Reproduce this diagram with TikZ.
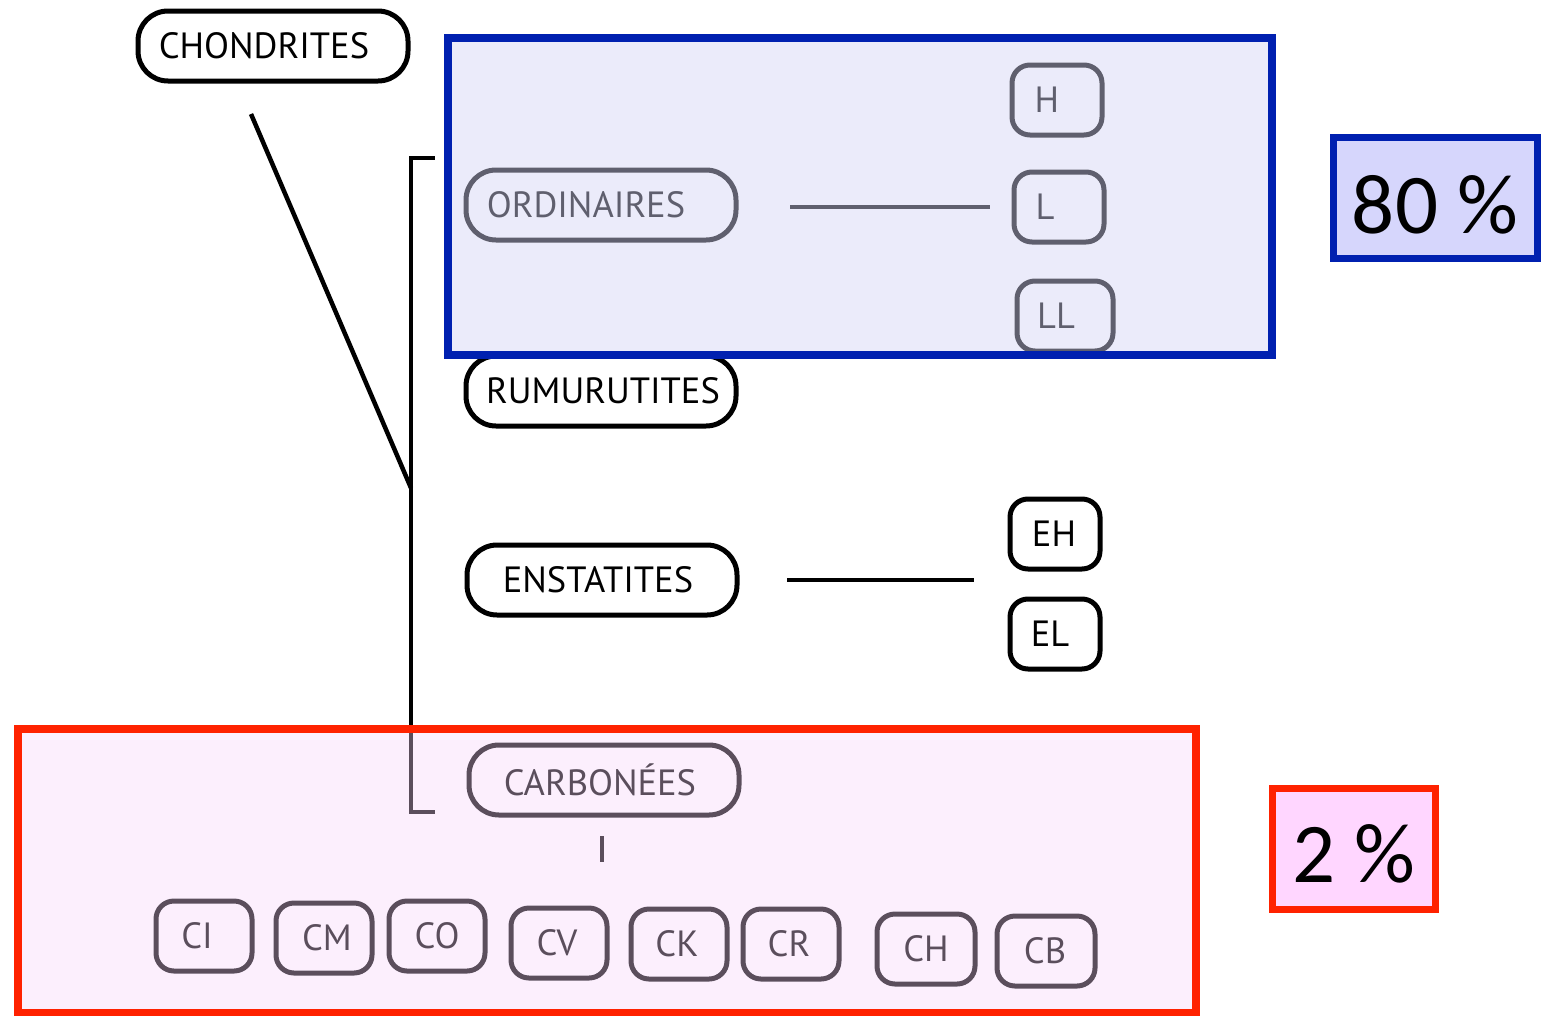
\documentclass[tikz,border=0pt]{standalone}
\usepackage{fontspec}
\newfontfamily\labfont{PT Sans}
\newfontfamily\pctfont{Carlito}
\newcommand\labsize{\labfont\fontsize{36.5}{40}\selectfont}
\newcommand\pctsize{\pctfont\fontsize{85}{90}\selectfont}
\newcommand\sh[2]{\hspace*{#1pt}#2}
\definecolor{blueedge}{RGB}{0,32,176}
\definecolor{rededge}{RGB}{255,34,0}
\definecolor{blueover}{RGB}{212,212,244}
\definecolor{pinkover}{RGB}{247,214,252}
\definecolor{bluepct}{RGB}{214,214,252}
\definecolor{pinkpct}{RGB}{255,214,255}
\tikzset{
  bigbox/.style={draw, line width=5pt, rounded corners=30pt, minimum width=270pt, minimum height=70pt, inner sep=0pt, font=\labsize},
  smallbox/.style={draw, line width=5pt, rounded corners=18pt, minimum width=96pt, minimum height=70pt, inner sep=0pt, font=\labsize},
  conn/.style={line width=4.5pt},
  pctbox/.style={line width=7pt, inner sep=0pt, font=\pctsize, text depth=0pt},
}
\begin{document}
\begin{tikzpicture}[x=1pt,y=-1pt]
\useasboundingbox[fill=white] (0,0) rectangle (1542,1015);
% main nodes
\node[bigbox] (chond) at (273,46) {\sh{-18}{CHONDRITES}};
\node[bigbox] (ord) at (601,205) {\sh{-30}{ORDINAIRES}};
\node[bigbox] (rum) at (601,391) {\sh{4}{RUMURUTITES}};
\node[bigbox] (ens) at (602,580) {\sh{-8}{ENSTATITES}};
\node[bigbox] (carb) at (604,780) {\sh{-8}{CARBONÉES}};
% sub nodes
\node[smallbox, minimum width=90pt] (H) at (1057,100) {\sh{-20}{H}};
\node[smallbox, minimum width=90pt] (L) at (1059,207) {\sh{-28}{L}};
\node[smallbox, minimum width=96pt] (LL) at (1065,316) {\sh{-18}{LL}};
\node[smallbox, minimum width=90pt] (EH) at (1055,534) {\sh{-2}{EH}};
\node[smallbox, minimum width=90pt] (EL) at (1055,634) {\sh{-10}{EL}};
\node[smallbox] (CI) at (204,936) {\sh{-14}{CI}};
\node[smallbox] (CM) at (324,938) {\sh{6}{CM}};
\node[smallbox] (CO) at (437,936) {CO};
\node[smallbox] (CV) at (559,943) {\sh{-4}{CV}};
\node[smallbox] (CK) at (679,944) {\sh{-4}{CK}};
\node[smallbox] (CR) at (791,944) {\sh{-4}{CR}};
\node[smallbox, minimum width=98pt] (CH) at (926,949) {CH};
\node[smallbox, minimum width=98pt] (CB) at (1046,951) {\sh{-2}{CB}};
% connectors
\coordinate (cstart) at (251,114);
\coordinate (junc) at (411,488);
\coordinate (btop) at (411,158);
\coordinate (bbot) at (411,812);
\draw[conn] (cstart) -- (junc);
\draw[conn, line cap=rect] (433,158) -- (btop) -- (bbot) -- (433,812);
\coordinate (o1) at (790,207); \coordinate (o2) at (990,207);
\draw[conn] (o1) -- (o2);
\coordinate (e1) at (787,580); \coordinate (e2) at (974,580);
\draw[conn] (e1) -- (e2);
\coordinate (t1) at (602,836); \coordinate (t2) at (602,862);
\draw[conn] (t1) -- (t2);
% translucent overlays
\fill[blueover, opacity=0.45] (448,38) rectangle (1272,355);
\fill[pinkover, opacity=0.37] (18,729) rectangle (1196,1013);
\draw[blueedge, line width=8pt] (448,38) rectangle (1272,355);
\draw[rededge, line width=8pt] (18,729) rectangle (1196,1013);
% percentage boxes
\node[pctbox, draw=blueedge, fill=bluepct, minimum width=204pt, minimum height=121pt, text height=70pt] (p80) at (1435,198) {80 \%};
\node[pctbox, draw=rededge, fill=pinkpct, minimum width=163pt, minimum height=121pt, text height=66pt] (p2) at (1354,849) {2 \%};
\end{tikzpicture}
\end{document}
